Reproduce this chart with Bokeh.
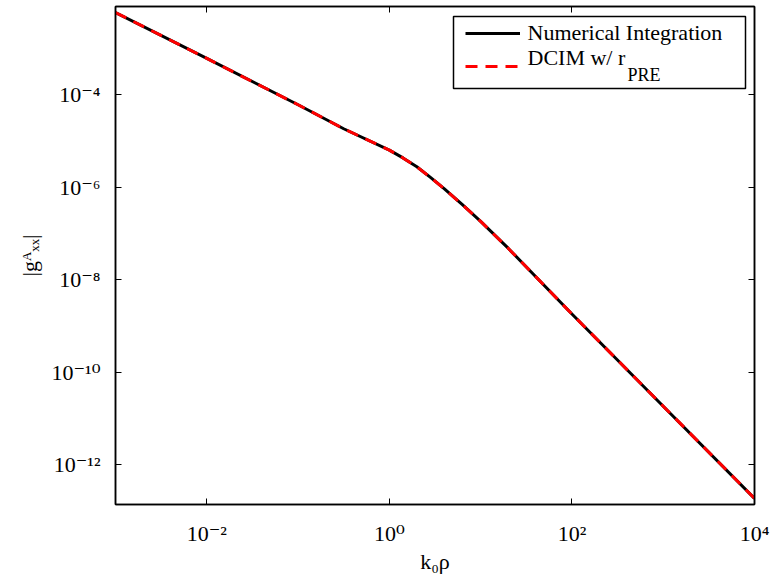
from bokeh.plotting import figure
from bokeh.models import (Range1d, FixedTicker, LogAxis, Label, Legend,
                          LegendItem, BoxAnnotation)
from bokeh.core.properties import value
from bokeh.embed import file_html
from bokeh.resources import INLINE

# ---------------- data ----------------
k0rho = [1e-3, 1e-2, 1e-1, 0.316, 1.0, 1.41, 2.0, 2.82, 3.98, 6.31,
         10.0, 20.0, 100.0, 1000.0, 1e4]
g_numerical = [5.9e-3, 6.0e-4, 6.0e-5, 1.82e-5, 6.3e-6, 4.27e-6, 2.75e-6,
               1.62e-6, 9.3e-7, 4.17e-7, 1.82e-7, 4.8e-8, 1.82e-9,
               1.86e-11, 1.9e-13]
g_dcim = [5.9e-3, 6.0e-4, 6.0e-5, 1.82e-5, 6.3e-6, 4.27e-6, 2.75e-6,
          1.62e-6, 9.3e-7, 4.17e-7, 1.82e-7, 4.8e-8, 1.82e-9,
          1.86e-11, 1.9e-13]

x_ticks = [1e-2, 1e0, 1e2, 1e4]
x_tick_labels = ["10\u207b\u00b2", "10\u2070", "10\u00b2", "10\u2074"]
y_ticks = [1e-12, 1e-10, 1e-8, 1e-6, 1e-4]
y_tick_labels = ["10\u207b\u00b9\u00b2", "10\u207b\u00b9\u2070",
                 "10\u207b\u2078", "10\u207b\u2076", "10\u207b\u2074"]
x_title = "k\u2080\u03c1"
y_title = "|g\u1d2c\u2093\u2093|"
legend_texts = ["Numerical Integration", "DCIM w/ r"]
legend_sub = "PRE"

# ---------------- layout constants ----------------
FONT = "Liberation Serif"
TICK_FONT = "'Liberation Serif', 'DejaVu Serif', serif"
FW, FH = 639, 498

p = figure(frame_width=FW, frame_height=FH,
           x_axis_type="log", y_axis_type="log",
           x_range=Range1d(1e-3, 1e4),
           y_range=Range1d(10 ** -12.853, 10 ** -2.100),
           min_border_left=115, min_border_right=17,
           min_border_top=6, min_border_bottom=76,
           output_backend="svg", toolbar_location=None)
p.background_fill_color = "white"
p.border_fill_color = "white"
p.xgrid.visible = False
p.ygrid.visible = False
p.outline_line_color = "black"
p.outline_line_width = 1.5


def style_axis(ax, ticks, labels=None):
    ax.ticker = FixedTicker(ticks=ticks, minor_ticks=[])
    ax.major_tick_in = 6
    ax.major_tick_out = 0
    ax.minor_tick_in = 0
    ax.minor_tick_out = 0
    ax.axis_line_color = "black"
    ax.axis_line_width = 1.5
    ax.major_tick_line_color = "black"
    ax.major_tick_line_width = 1
    if labels is None:
        ax.major_label_text_font_size = "1px"
        ax.major_label_text_alpha = 0
        ax.major_label_standoff = 0
    else:
        ax.major_label_overrides = dict(zip(ticks, labels))
        ax.major_label_text_font = TICK_FONT
        ax.major_label_text_font_size = "22px"
        ax.major_label_text_color = "black"
        ax.axis_label_text_font = TICK_FONT
        ax.axis_label_text_font_size = "22px"
        ax.axis_label_text_font_style = "normal"
        ax.axis_label_text_color = "black"


xa = p.xaxis[0]
style_axis(xa, x_ticks, x_tick_labels)
xa.major_label_standoff = 16
xa.axis_label = x_title
xa.axis_label_standoff = 0

ya = p.yaxis[0]
style_axis(ya, y_ticks, y_tick_labels)
ya.major_label_standoff = 15
ya.axis_label = y_title
ya.axis_label_standoff = 6

top_ax = LogAxis()
style_axis(top_ax, x_ticks)
p.add_layout(top_ax, "above")
right_ax = LogAxis()
style_axis(right_ax, y_ticks)
p.add_layout(right_ax, "right")

# ---------------- curves ----------------
r1 = p.line(k0rho, g_numerical, line_color="black", line_width=3)
r2 = p.line(k0rho, g_dcim, line_color="red", line_width=3, line_dash="12 8")

# ---------------- legend ----------------
box = BoxAnnotation(left=338, right=630, top=488, bottom=416,
                    left_units="screen", right_units="screen",
                    top_units="screen", bottom_units="screen",
                    fill_color="white", fill_alpha=1.0,
                    line_color="black", line_alpha=1.0, line_width=1.5)
p.add_layout(box)

legend = Legend(items=[LegendItem(label=value("."), renderers=[r1]),
                       LegendItem(label=value("."), renderers=[r2])],
                location=(350, 424), glyph_width=55, glyph_height=28,
                label_height=28, label_width=1, spacing=5, padding=0,
                margin=0, label_standoff=0, border_line_alpha=0,
                background_fill_alpha=0, label_text_font_size="10px",
                label_text_alpha=0)
p.add_layout(legend)

for txt, x, y, size in [(legend_texts[0], 412, 472, 22),
                        (legend_texts[1], 412, 447, 22),
                        (legend_sub, 512, 430, 18)]:
    p.add_layout(Label(x=x, y=y, x_units="screen", y_units="screen",
                       text=txt, text_align="left",
                       text_baseline="alphabetic", text_font=FONT,
                       text_font_size=f"{size}px", text_color="black"))

open("out.html", "w").write(file_html(p, INLINE))
